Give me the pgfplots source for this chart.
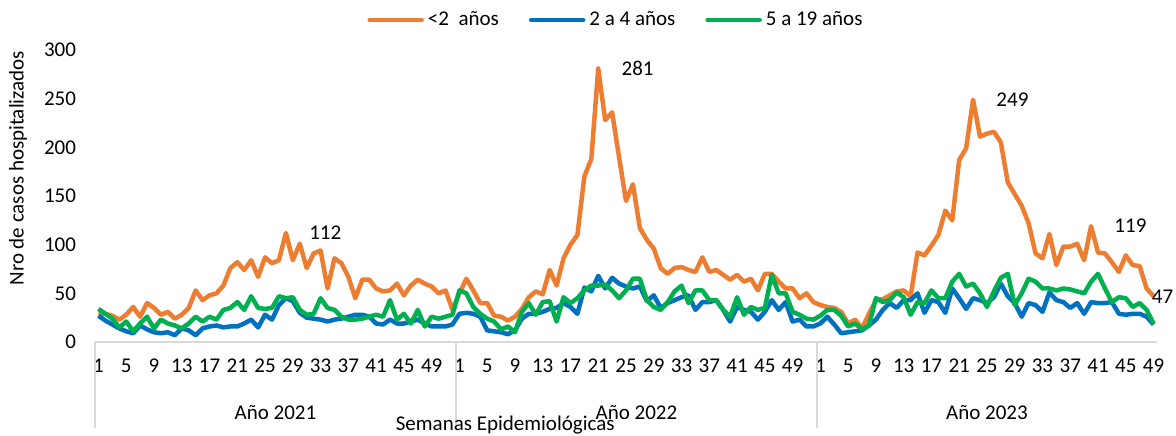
\documentclass[border=0pt]{standalone}
\usepackage{fontspec}
\setmainfont{Carlito}
\usepackage{pgfplots}
\pgfplotsset{compat=1.18}
\usepackage{pgfplotstable}

\definecolor{cOr}{HTML}{ED7D31}
\definecolor{cBl}{HTML}{0070C0}
\definecolor{cGr}{HTML}{00B050}
\definecolor{cAx}{HTML}{D9D9D9}

% index (0 = 2021 w1 ... 152 = 2023 w49), <2, 2-4, 5-19
\pgfplotstableread{
i o b g
0 29 27 34
1 29 22 29
2 27 18 24
3 23 14 15
4 28 11 21
5 36 9 11
6 26 17 19
7 40 13 26
8 35 10 14
9 28 9 23
10 31 10 19
11 24 7 17
12 28 14 14
13 35 12 19
14 53 7 26
15 43 14 21
16 48 16 26
17 50 17 23
18 58 15 33
19 76 16 35
20 82 16 41
21 74 19 33
22 84 23 47
23 67 15 35
24 87 28 34
25 81 23 35
26 84 38 47
27 112 45 45
28 84 42 46
29 101 30 33
30 76 25 28
31 91 24 29
32 94 23 45
33 55 21 35
34 86 23 33
35 81 24 26
36 67 26 23
37 45 28 23
38 64 28 24
39 64 26 26
40 55 19 28
41 52 18 26
42 53 23 43
43 60 19 23
44 48 19 29
45 58 21 19
46 64 23 33
47 60 19 16
48 57 16 26
49 50 16 24
50 53 16 26
51 33 18 28
52 50 29 53
53 65 30 50
54 53 29 36
55 40 26 29
56 40 12 24
57 27 11 21
58 26 10 13
59 22 8 16
60 26 12 10
61 34 24 31
62 46 29 40
63 52 29 28
64 49 31 41
65 74 34 42
66 58 35 21
67 86 40 46
68 100 36 40
69 110 29 45
70 170 56 53
71 188 52 58
72 281 68 58
73 228 55 59
74 236 66 53
75 190 60 45
76 145 57 53
77 162 55 65
78 117 57 65
79 105 42 43
80 96 48 36
81 76 35 33
82 70 40 41
83 76 43 52
84 77 46 58
85 74 48 40
86 72 33 53
87 87 41 53
88 72 41 43
89 74 43 43
90 69 33 33
91 64 21 26
92 69 36 46
93 62 33 28
94 65 31 36
95 53 23 33
96 70 31 35
97 70 43 69
98 62 33 50
99 55 41 50
100 55 21 31
101 45 23 28
102 50 16 24
103 41 16 23
104 38 19 27
105 36 26 33
106 35 18 33
107 31 9 27
108 19 10 16
109 23 11 19
110 14 12 13
111 29 17 17
112 43 23 45
113 44 33 41
114 48 40 43
115 52 35 51
116 53 43 46
117 47 43 28
118 92 50 41
119 89 30 40
120 99 43 53
121 110 41 45
122 135 30 45
123 125 55 62
124 187 45 70
125 199 34 57
126 249 45 60
127 211 43 50
128 214 40 36
129 216 46 52
130 205 60 66
131 164 47 70
132 152 40 38
133 140 26 50
134 122 40 65
135 91 38 62
136 86 31 55
137 111 51 55
138 79 43 53
139 98 41 55
140 98 35 54
141 101 40 52
142 84 29 50
143 119 41 62
144 92 40 70
145 91 40 55
146 82 41 41
147 72 29 46
148 89 28 45
149 79 29 36
150 78 29 40
151 55 26 33
152 47 18 19
}\casos

\begin{document}
\begin{tikzpicture}[font=\fontsize{10.5}{12.6}\selectfont]
\begin{axis}[
  at={(0,0)}, anchor=south west,
  scale only axis, width=531pt, height=146pt,
  xmin=-0.5, xmax=152.5, ymin=0, ymax=300,
  ytick={0,50,...,300},
  xtick={0,4,...,152},
  xticklabels={1,5,9,13,17,21,25,29,33,37,41,45,49,
               1,5,9,13,17,21,25,29,33,37,41,45,49,
               1,5,9,13,17,21,25,29,33,37,41,45,49},
  axis x line*=bottom, axis y line*=left,
  x axis line style={draw=cAx, line width=0.75pt, -},
  y axis line style={draw=none},
  major tick length=0pt, tick style={draw=none},
  xticklabel style={yshift=-5pt},
  yticklabel style={xshift=-6pt},
  /pgf/number format/assume math mode=true,
  ylabel={Nro de casos hospitalizados},
  ylabel style={at={(axis description cs:-0.0725,0.595)}, anchor=center},
  legend style={at={(0.4915,1.103)}, anchor=center, draw=none, fill=none,
    /tikz/every even column/.append style={column sep=13pt}},
  legend columns=3,
  legend image code/.code={\draw[#1, line cap=round] (0pt,0pt) -- (26pt,0pt);},
  clip=false,
  every axis plot/.append style={line width=2.25pt, line join=round, mark=none},
]
\addplot[cOr] table[x=i, y=o] {\casos};
\addplot[cBl] table[x=i, y=b] {\casos};
\addplot[cGr] table[x=i, y=g] {\casos};
\legend{<2\ \ años, 2 a 4 años, 5 a 19 años}

% multi-level category axis
\draw[cAx, line width=0.75pt] (axis cs:-0.5,0) -- ++(0pt,-43pt);
\draw[cAx, line width=0.75pt] (axis cs:51.5,0) -- ++(0pt,-43pt);
\draw[cAx, line width=0.75pt] (axis cs:103.5,0) -- ++(0pt,-43pt);
\node[yshift=-35.5pt] at (axis cs:25.5,0) {Año 2021};
\node[yshift=-35.5pt] at (axis cs:77.5,0) {Año 2022};
\node[yshift=-35.5pt] at (axis cs:128,0) {Año 2023};
\node[yshift=-41.5pt] at (axis cs:58.6,0) {Semanas Epidemiológicas};

% data labels
\node[anchor=west, inner sep=0pt, xshift=11.5pt] at (axis cs:27,112) {112};
\node[anchor=west, inner sep=0pt, xshift=11.5pt] at (axis cs:72,281) {281};
\node[anchor=west, inner sep=0pt, xshift=11.5pt] at (axis cs:126,249) {249};
\node[anchor=west, inner sep=0pt, xshift=11.5pt] at (axis cs:143,119) {119};
\node[anchor=west, inner sep=0pt, xshift=-1pt] at (axis cs:152,47) {47};
\end{axis}
\pgfresetboundingbox
\path[use as bounding box] (-47.5pt,-46.5pt) rectangle (540.5pt,171pt);
\end{tikzpicture}
\end{document}
